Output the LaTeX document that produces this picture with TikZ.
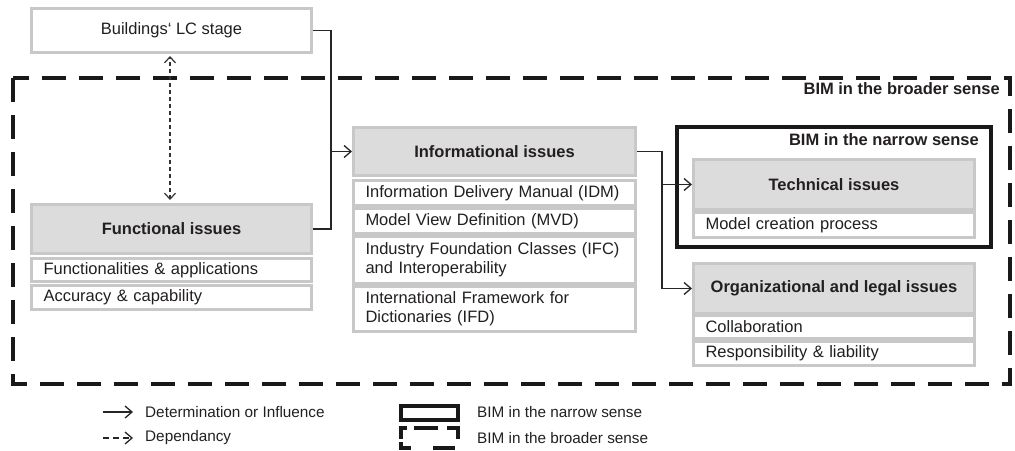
\documentclass[tikz,border=0pt]{standalone}
\usepackage{fontspec}
\setmainfont{Liberation Sans}
\usetikzlibrary{arrows.meta}
\definecolor{boxgray}{HTML}{C8C8C8}
\definecolor{hdrfill}{HTML}{DCDCDC}
\definecolor{txt}{HTML}{231F20}
\begin{document}
\begin{tikzpicture}[x=1pt,y=-1pt,
  every node/.style={font=\fontsize{16.5}{19}\selectfont, text=txt},
  hdr/.style={draw=boxgray, line width=3pt, fill=hdrfill, anchor=north west,
    font=\fontsize{16.5}{19}\selectfont\bfseries, inner sep=0pt},
  item/.style={draw=boxgray, line width=3pt, fill=white, anchor=north west,
    align=left, inner xsep=12pt, inner ysep=0pt},
  topbox/.style={draw=boxgray, line width=3pt, fill=white, anchor=north west, inner sep=0pt},
  conn/.style={line width=1.3pt, draw=black!85},
  arr/.style={conn, -{Straight Barb[length=7pt,width=12pt,line width=1.3pt]}},
  dep/.style={line width=1.2pt, draw=black!80, dash pattern=on 4pt off 3pt,
    {Straight Barb[length=6pt,width=11pt,line width=1.2pt]}-{Straight Barb[length=6pt,width=11pt,line width=1.2pt]}},
  deparr/.style={line width=1.3pt, draw=black!85, dash pattern=on 6pt off 4pt,
    -{Straight Barb[length=7pt,width=12pt,line width=1.3pt]}},
  narrowframe/.style={draw=black!90, line width=3.5pt},
  broadframe/.style={draw=black!90, line width=3.5pt, dash pattern=on 24pt off 13pt},
  framelabel/.style={font=\fontsize{16.5}{19}\selectfont\bfseries, anchor=east, inner sep=0pt},
  legtext/.style={anchor=west, inner sep=0pt, font=\fontsize{15.3}{18}\selectfont},
]
\useasboundingbox (0,0) rectangle (1015,450);

% frames
\draw[broadframe] (13,78) rectangle (1010,384);
\node[framelabel] (broadlbl) at (1000,89) {BIM in the broader sense};
\draw[narrowframe] (677,127) rectangle (991,247);
\node[framelabel] (narrowlbl) at (979,140) {BIM in the narrow sense};

% boxes
\node[topbox, minimum width=280pt, minimum height=44pt] (bld) at (30,7) {Buildings‘ LC stage};

\node[hdr, minimum width=280pt, minimum height=49pt] (func) at (30,203) {Functional issues};
\node[item, text width=256pt, minimum height=23pt] (funcapp) at (30,257) {Functionalities \& applications};
\node[item, text width=256pt, minimum height=24pt] (acc) at (30,284) {Accuracy \& capability};

\node[hdr, minimum width=282pt, minimum height=48pt] (info) at (352,126) {Informational issues};
\node[item, text width=258pt, minimum height=25pt] (idm) at (352,179) {Information Delivery Manual (IDM)};
\node[item, text width=258pt, minimum height=25pt] (mvd) at (352,207) {Model View Definition (MVD)};
\node[item, text width=258pt, minimum height=47pt] (ifc) at (352,235) {Industry Foundation Classes (IFC)\\and Interoperability};
\node[item, text width=258pt, minimum height=45pt] (ifd) at (352,285) {International Framework for\\Dictionaries (IFD)};

\node[hdr, minimum width=281pt, minimum height=50pt] (tech) at (692,158) {Technical issues};
\node[item, text width=257pt, minimum height=25pt] (mcp) at (692,211) {Model creation process};

\node[hdr, minimum width=281pt, minimum height=50pt] (org) at (692,262) {Organizational and legal issues};
\node[item, text width=257pt, minimum height=23pt] (collab) at (692,314) {Collaboration};
\node[item, text width=257pt, minimum height=24pt] (resp) at (692,340) {Responsibility \& liability};

% connectors
\coordinate (jl) at (331,0);
\draw[conn] (bld.east) -- (bld.east -| jl) -- (func.east -| jl) -- (func.east);
\draw[arr] (info.west -| jl) -- (info.west);
\coordinate (jr) at (662,0);
\draw[conn] (info.east) -- (info.east -| jr) -- (org.west -| jr);
\draw[arr] (tech.west -| jr) -- (tech.west);
\draw[arr] (org.west -| jr) -- (org.west);
\draw[dep, shorten <=3pt, shorten >=2pt] (func.north -| 170,0) -- (bld.south -| 170,0);

% legend
\coordinate (la1) at (103,412);
\coordinate (la2) at (133,412);
\coordinate (lb1) at (103,438);
\coordinate (lb2) at (133,438);
\draw[arr] (la1) -- (la2);
\draw[deparr] (lb1) -- (lb2);
\node[legtext] (lat) at (145,412) {Determination or Influence};
\node[legtext] (lbt) at (145,438) {Dependancy};
\draw[narrowframe] (401,406) rectangle (458,420);
\draw[narrowframe, line cap=butt]
  (401,439) -- (401,428) -- (407,428)
  (414,428) -- (438,428)
  (447,428) -- (458,428) -- (458,439)
  (401,442) -- (401,448) -- (411,448)
  (433,448) -- (455,448);
\node[legtext] (lct) at (477,412) {BIM in the narrow sense};
\node[legtext] (ldt) at (477,438) {BIM in the broader sense};
\end{tikzpicture}
\end{document}
